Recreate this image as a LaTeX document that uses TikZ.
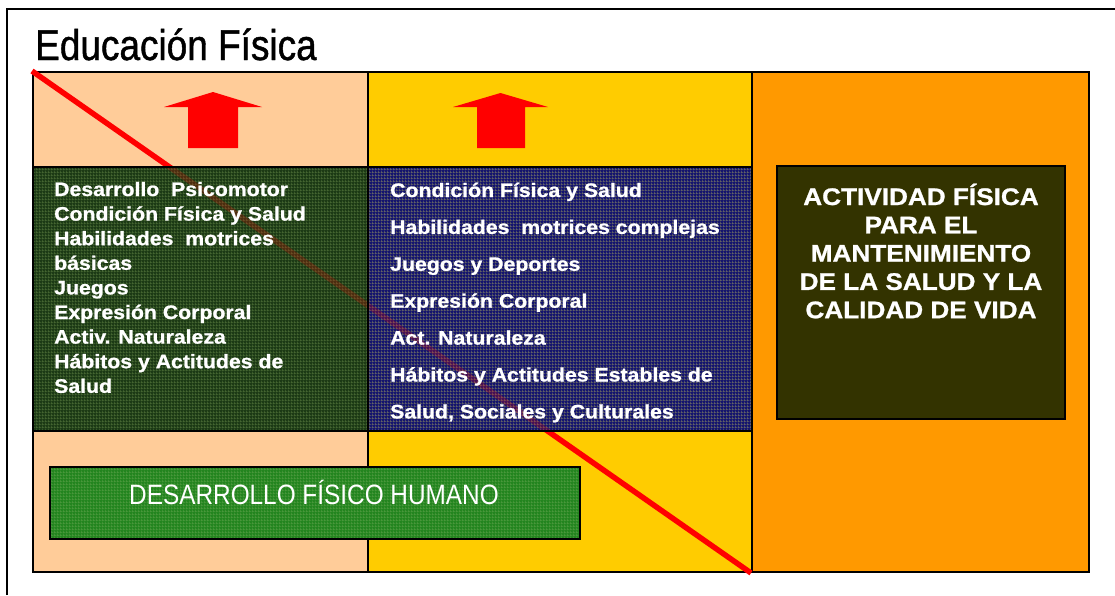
\documentclass[tikz,border=0pt]{standalone}
\usepackage{fontspec}
\usetikzlibrary{patterns.meta}
\setmainfont{Liberation Sans}
\newfontfamily\boldf[FakeStretch=1.09,FakeBold=1]{Liberation Sans}
\newfontfamily\narrowf[FakeStretch=0.87]{Liberation Sans}
\newfontfamily\titlef[FakeStretch=0.86,FakeBold=1]{Liberation Sans}
\definecolor{peach}{HTML}{FFCC99}
\definecolor{gold}{HTML}{FFCC00}
\definecolor{orangec}{HTML}{FF9900}
\definecolor{greenbase}{HTML}{1C3A15}
\definecolor{greengrid}{HTML}{4A6A34}
\definecolor{bluebase}{HTML}{15156E}
\definecolor{bluegrid}{HTML}{6B6B66}
\definecolor{olivebox}{HTML}{333300}
\definecolor{devbase}{HTML}{23851F}
\definecolor{devgrid}{HTML}{4E9A3E}
\definecolor{redc}{HTML}{FF0000}
\tikzdeclarepattern{name=fgrid, type=uncolored,
  bounding box={(0pt,0pt) and (3pt,3pt)}, tile size={(3pt,3pt)},
  code={\pgfsetlinewidth{0.7pt}
    \pgfpathmoveto{\pgfpoint{0pt}{0.5pt}}\pgfpathlineto{\pgfpoint{3pt}{0.5pt}}
    \pgfpathmoveto{\pgfpoint{0.5pt}{0pt}}\pgfpathlineto{\pgfpoint{0.5pt}{3pt}}
    \pgfusepath{stroke}}}
\begin{document}
\begin{tikzpicture}[x=1pt,y=-1pt,
  col/.style={draw=black,line width=1.6pt},
  uparrow/.style={fill=redc,draw=none},
  gtext/.style={anchor=base west,inner sep=0pt,text=white,font=\boldf\bfseries\fontsize{19.5}{22}\selectfont},
  rtext/.style={anchor=base,inner sep=0pt,text=white,font=\boldf\bfseries\fontsize{24}{28}\selectfont}]
\useasboundingbox (0,0) rectangle (1115,595);
% outer frame (left and top edges)
\draw[line width=1.8pt] (7,595) -- (7,9) -- (1115,9);
% title
\node[anchor=base west,inner sep=0pt,font=\titlef\fontsize{43}{48}\selectfont] (title) at (35,60) {Educación Física};
% columns
\filldraw[col,fill=peach] (33,72) rectangle (368,572);
\filldraw[col,fill=gold] (368,72) rectangle (752,572);
\filldraw[col,fill=orangec] (752,72) rectangle (1089,572);
% arrows
\fill[uparrow] (164,107) -- (213,92) -- (262,107) -- (238,107) -- (238,148) -- (188,148) -- (188,107) -- cycle;
\fill[uparrow] (453,107) -- (500.5,93) -- (548,107) -- (525,107) -- (525,148) -- (477,148) -- (477,107) -- cycle;
% red diagonal
\coordinate (ls) at (32,71);
\coordinate (le) at (751,573);
\draw[redc,line width=5.5pt] (ls) -- (le);
% content boxes
\fill[greenbase] (33,167) rectangle (368,431);
\fill[pattern=fgrid,pattern color=greengrid] (33,167) rectangle (368,431);
\fill[bluebase] (368,167) rectangle (752,431);
\fill[pattern=fgrid,pattern color=bluegrid] (368,167) rectangle (752,431);
\begin{scope}
  \clip (33,167) rectangle (752,431);
  \draw[redc,line width=5.5pt,opacity=0.22] (ls) -- (le);
\end{scope}
\draw[col] (33,167) rectangle (368,431);
\draw[col] (368,167) rectangle (752,431);
\filldraw[col,fill=olivebox] (777,166) rectangle (1065,419);
\fill[devbase] (50,467) rectangle (580,539);
\fill[pattern=fgrid,pattern color=devgrid] (50,467) rectangle (580,539);
\draw[col] (50,467) rectangle (580,539);
\node[anchor=base,inner sep=0pt,text=white,font=\narrowf\fontsize{28}{32}\selectfont] (dev) at (314,504) {DESARROLLO FÍSICO HUMANO};
% green box text
\foreach \t [count=\i] in {Desarrollo\ \ Psicomotor,Condición Física y Salud,Habilidades\ \ motrices,básicas,Juegos,Expresión Corporal,Activ. Naturaleza,Hábitos y Actitudes de,Salud}
  \node[gtext] (g\i) at (54,{196+24.6*(\i-1)}) {\t};
% blue box text
\foreach \t [count=\i] in {Condición Física y Salud,Habilidades\ \ motrices complejas,Juegos y Deportes,Expresión Corporal,Act. Naturaleza,Hábitos y Actitudes Estables de,{Salud, Sociales y Culturales}}
  \node[gtext] (b\i) at (390,{197+36.9*(\i-1)}) {\t};
% right box text
\foreach \t [count=\i] in {ACTIVIDAD FÍSICA,PARA EL,MANTENIMIENTO,DE LA SALUD Y LA,CALIDAD DE VIDA}
  \node[rtext] (r\i) at (921,{205+28.3*(\i-1)}) {\t};
\end{tikzpicture}
\end{document}
